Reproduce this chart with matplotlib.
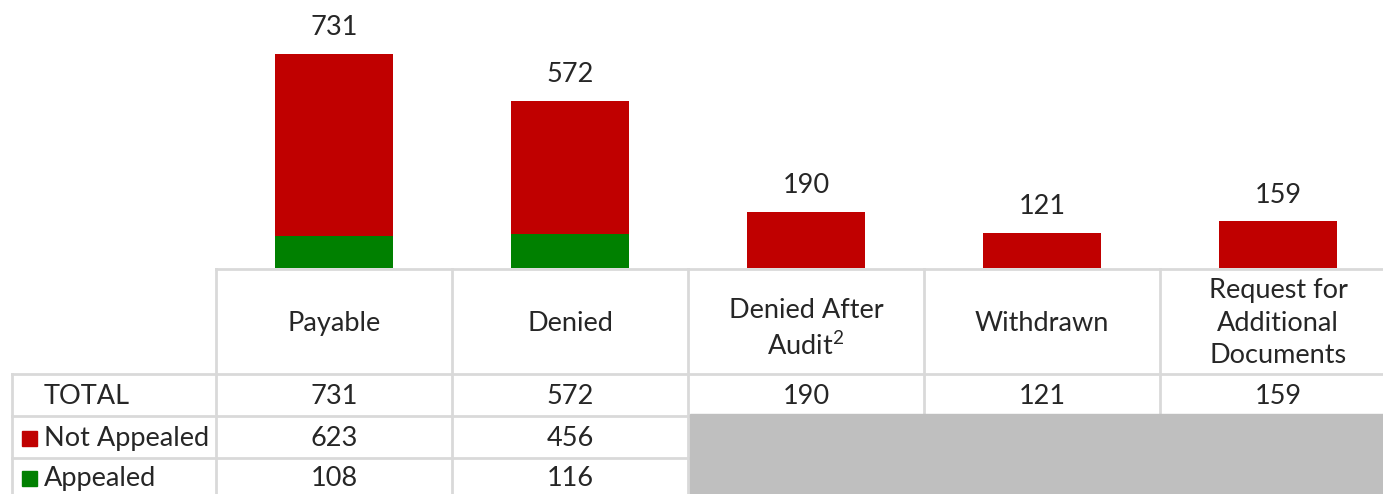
import numpy as np
import matplotlib
matplotlib.use('Agg')
import matplotlib.pyplot as plt
from matplotlib.patches import Rectangle

# data
categories = ['Payable', 'Denied', 'Denied After\nAudit$^{2}$', 'Withdrawn',
              'Request for\nAdditional\nDocuments']
totals = [731, 572, 190, 121, 159]
not_appealed = [623, 456]
appealed = [108, 116]
row_labels = ['TOTAL', 'Not Appealed', 'Appealed']

RED = '#C00000'
GREEN = '#008000'
GRID = '#D9D9D9'
TXT = '#262626'
FONT = 'Lato'
FS = 19.5

plt.rcParams['mathtext.fontset'] = 'custom'
plt.rcParams['mathtext.rm'] = FONT
plt.rcParams['mathtext.it'] = FONT
plt.rcParams['mathtext.default'] = 'rm'

W, H = 1383, 494
fig = plt.figure(figsize=(W / 100, H / 100), dpi=100)

# geometry in pixels
col_w = 236
x0 = 216          # left edge of first category column
base = 268        # bar baseline
px_per_unit = 214 / 731

x = np.arange(len(categories))
# bar axes
ax = fig.add_axes([x0 / W, (H - base) / H, 1 - x0 / W, base / H])
ax.set_xlim(-0.5, -0.5 + (W - x0) / col_w)
ax.set_ylim(0, base / px_per_unit)
ax.axis('off')

n_split = len(appealed)
ax.bar(x[:n_split], appealed, width=0.5, color=GREEN)
ax.bar(x[:n_split], not_appealed, width=0.5, bottom=appealed, color=RED)
ax.bar(x[n_split:], totals[n_split:], width=0.5, color=RED)
for xi, t in zip(x, totals):
    ax.annotate(str(t), (xi, t), xytext=(0, 19), textcoords='offset points',
                ha='center', va='center', fontsize=FS, color=TXT,
                family=FONT)

# table axes: x in category units, y in pixels
tx = fig.add_axes([0, 0, 1, (H - base) / H])
xl = -0.5 - x0 / col_w
tx.set_xlim(xl, xl + W / col_w)
tx.set_ylim(H, base)
tx.axis('off')

left = xl + 12 / col_w
row_y = [374, 416, 458, 500]
lw = 2

# horizontal lines
tx.plot([-0.5, x[-1] + 1], [base + 1, base + 1], color=GRID, lw=lw)
for yy in row_y[:3]:
    tx.plot([left, x[-1] + 1], [yy, yy], color=GRID, lw=lw)
# vertical lines
for i in range(len(categories)):
    tx.plot([i - 0.5, i - 0.5], [base, H], color=GRID, lw=lw)
tx.plot([left, left], [row_y[0], H], color=GRID, lw=lw)

# grey block for categories without a split
tx.add_patch(Rectangle((n_split - 0.5 + 2 / col_w, 414), 10, 100,
                       color='#BFBFBF', zorder=5))

# header labels
for xi, c in zip(x, categories):
    dy = 8 if '$' in c else 2
    tx.text(xi, (base + row_y[0]) / 2 + dy, c, ha='center', va='center',
            fontsize=FS, color=TXT, family=FONT, linespacing=1.38)

# total row
for xi, t in zip(x, totals):
    tx.text(xi, (row_y[0] + row_y[1]) / 2 + 1, str(t), ha='center',
            va='center', fontsize=FS, color=TXT, family=FONT)
for xi, v in zip(x[:n_split], not_appealed):
    tx.text(xi, (row_y[1] + row_y[2]) / 2 + 1, str(v), ha='center',
            va='center', fontsize=FS, color=TXT, family=FONT)
for xi, v in zip(x[:n_split], appealed):
    tx.text(xi, (row_y[2] + row_y[3]) / 2 - 1, str(v), ha='center',
            va='center', fontsize=FS, color=TXT, family=FONT)

# row labels with legend keys
lab_x = xl + 44 / col_w
key_x = xl + 22 / col_w
key_colors = [None, RED, GREEN]
for r, (lab, kc) in enumerate(zip(row_labels, key_colors)):
    cy = (row_y[r] + row_y[r + 1]) / 2 + 1
    if r == 2:
        cy -= 2
    tx.text(lab_x, cy, lab, ha='left', va='center', fontsize=FS, color=TXT,
            family=FONT)
    if kc:
        tx.add_patch(Rectangle((key_x, cy - 7), 15 / col_w, 15, color=kc))

fig.savefig('out.png', dpi=100)
